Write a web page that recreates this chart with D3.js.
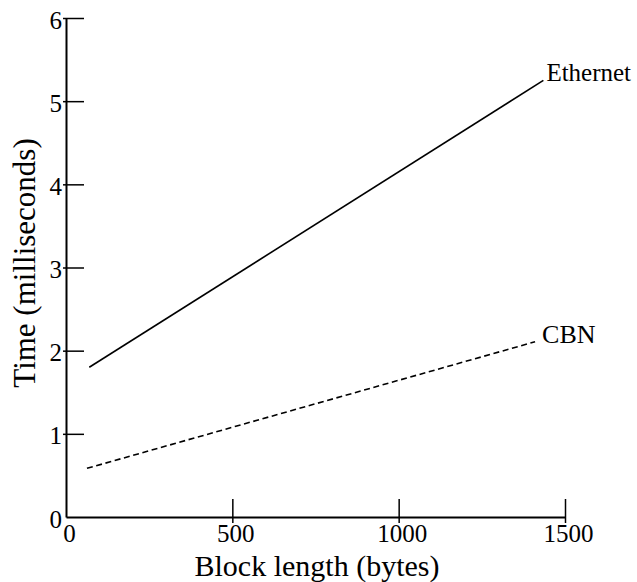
<!DOCTYPE html>
<html>
<head>
<meta charset="utf-8">
<script src="https://cdn.jsdelivr.net/npm/d3@7"></script>
<style>
    body { margin: 0; background: #fff; }
    svg text { font-family: "Liberation Serif", "Times New Roman", serif; fill: #000; }
</style>
</head>
<body>
<svg id="chart"></svg>
<script>
// ------- data -------
var xTicks = [0, 500, 1000, 1500];
var yTicks = [0, 1, 2, 3, 4, 5, 6];

var ethernetBytes = [70, 1435];
var ethernetTime = [1.8, 5.25];

var cbnBytes = [63, 1410];
var cbnTime = [0.585, 2.107];

var seriesNames = ["Ethernet", "CBN"];

var xTitle = "Block length (bytes)";
var yTitle = "Time (milliseconds)";

// ------- chart -------
var width = 637;
var height = 582;

var svg = d3.select("#chart")
    .attr("width", width)
    .attr("height", height);

var x = d3.scaleLinear().domain([0, 1500]).range([66, 565]);
var y = d3.scaleLinear().domain([0, 6]).range([517, 18]);

// y axis, ticks pointing into the plot
var yAxis = svg.append("g")
    .attr("transform", "translate(" + x(0) + ",0)")
    .call(d3.axisLeft(y).tickValues(yTicks).tickFormat(d3.format("d"))
        .tickSizeInner(-18).tickSizeOuter(0).tickPadding(4));

yAxis.select(".domain").attr("stroke-width", 2);
yAxis.selectAll(".tick line")
    .attr("x1", -3)
    .attr("stroke-width", 1.5)
    .attr("display", function (d) { return d === 0 ? "none" : null; });
yAxis.selectAll(".tick text")
    .attr("font-size", "25px")
    .attr("dy", "0.4em")
    .attr("font-family", null);

// x axis
var xAxis = svg.append("g")
    .attr("transform", "translate(0," + y(0) + ")")
    .call(d3.axisBottom(x).tickValues(xTicks).tickFormat(d3.format("d"))
        .tickSizeInner(-18).tickSizeOuter(0));

xAxis.select(".domain").attr("stroke-width", 2);
xAxis.selectAll(".tick line")
    .attr("y1", 6)
    .attr("stroke-width", 1.5)
    .attr("display", function (d) { return d === 0 ? "none" : null; });
xAxis.selectAll(".tick text")
    .attr("font-size", "25px")
    .attr("y", 25)
    .attr("dx", 3)
    .attr("dy", 0)
    .attr("font-family", null);

// series lines
var line = d3.line()
    .x(function (d) { return x(d[0]); })
    .y(function (d) { return y(d[1]); });

var ethernet = ethernetBytes.map(function (b, i) { return [b, ethernetTime[i]]; });
var cbn = cbnBytes.map(function (b, i) { return [b, cbnTime[i]]; });

svg.append("path")
    .datum(ethernet)
    .attr("d", line)
    .attr("fill", "none")
    .attr("stroke", "#000")
    .attr("stroke-width", 1.6);

svg.append("path")
    .datum(cbn)
    .attr("d", line)
    .attr("fill", "none")
    .attr("stroke", "#000")
    .attr("stroke-width", 1.6)
    .attr("stroke-dasharray", "6,3.6");

// line labels at the right-hand ends
svg.append("text")
    .attr("x", x(ethernetBytes[1]) + 3)
    .attr("y", y(ethernetTime[1]) + 1)
    .attr("font-size", "25px")
    .text(seriesNames[0]);

svg.append("text")
    .attr("x", x(cbnBytes[1]) + 7)
    .attr("y", y(cbnTime[1]) + 1)
    .attr("font-size", "26px")
    .text(seriesNames[1]);

// axis titles
svg.append("text")
    .attr("x", 317)
    .attr("y", 576)
    .attr("text-anchor", "middle")
    .attr("font-size", "30px")
    .text(xTitle);

svg.append("text")
    .attr("transform", "translate(35,263)rotate(-90)")
    .attr("text-anchor", "middle")
    .attr("font-size", "31px")
    .text(yTitle);
</script>
</body>
</html>
